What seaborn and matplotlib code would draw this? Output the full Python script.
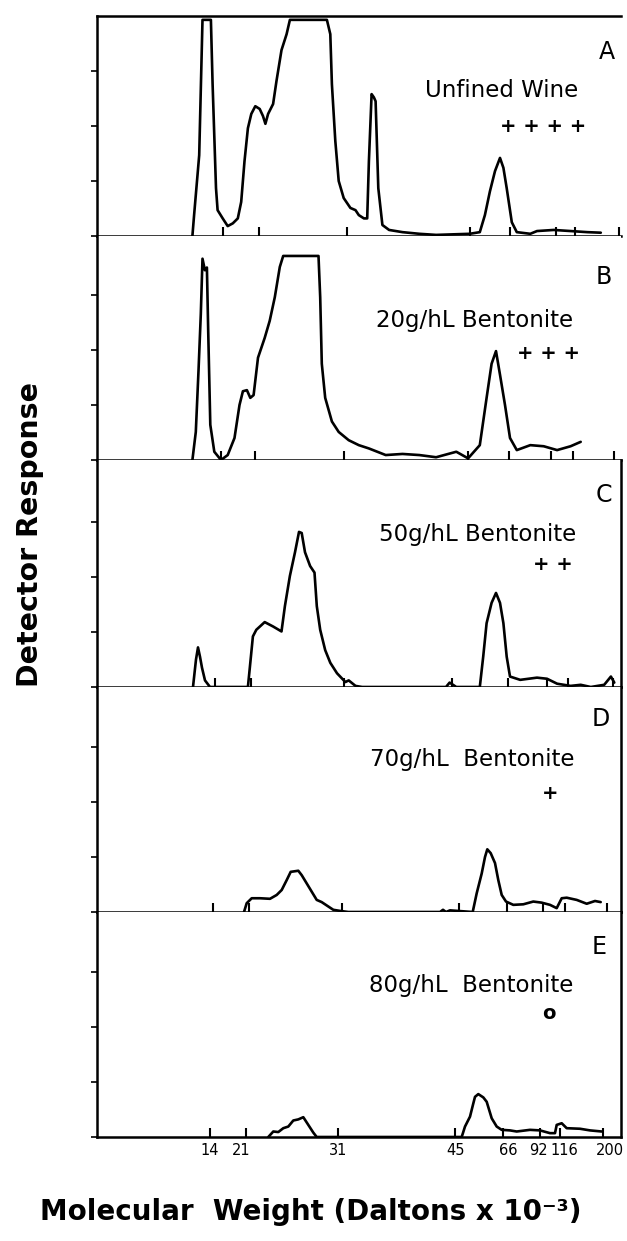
import matplotlib
matplotlib.use("Agg")
import matplotlib.pyplot as plt
import seaborn as sns
import pandas as pd

# scan distance (arbitrary units) and detector response for each gel lane
A_x = [92.4, 94.1, 99.2, 102.5, 110.9, 112.6, 116.0, 117.6, 122.7, 127.7, 132.8, 137.8, 141.2,
       144.5, 147.9, 151.3, 155.3, 159.7, 163.0, 165.4, 168.1, 173.1, 176.5, 181.5, 186.6, 189.9,
       226.9, 230.3, 231.9, 235.3, 238.7, 243.7, 250.4, 255.5, 258.8, 263.9, 267.2, 268.9, 271.6,
       273.9, 275.6, 278.3, 282.4, 289.1, 302.5, 319.3, 336.1, 352.9, 369.7, 379.8, 384.9, 389.9,
       395.0, 400.0, 403.4, 406.7, 411.8, 416.8, 430.3, 437.0, 453.8, 470.6, 487.4, 500.8]
A_y = [0.0, 0.38, 1.47, 3.93, 3.93, 2.76, 0.87, 0.47, 0.32, 0.18, 0.23, 0.32, 0.62,
       1.36, 1.96, 2.22, 2.36, 2.31, 2.18, 2.04, 2.22, 2.40, 2.82, 3.38, 3.67, 3.93,
       3.93, 3.67, 2.76, 1.73, 1.00, 0.69, 0.51, 0.47, 0.38, 0.32, 0.32, 1.36, 2.58,
       2.52, 2.45, 0.87, 0.20, 0.11, 0.07, 0.04, 0.02, 0.03, 0.04, 0.07, 0.38, 0.81,
       1.18, 1.42, 1.24, 0.87, 0.25, 0.07, 0.04, 0.09, 0.11, 0.09, 0.07, 0.06]

B_x = [92.4, 95.8, 98.5, 100.8, 102.5, 104.9, 106.9, 108.2, 110.3, 114.3, 121.0, 127.7, 134.5,
       139.5, 142.9, 146.9, 150.3, 153.6, 158.0, 164.7, 169.7, 174.8, 179.8, 183.2, 218.5, 220.2,
       221.8, 225.2, 231.9, 238.7, 248.7, 258.8, 268.9, 285.7, 302.5, 319.3, 336.1, 356.3, 368.1,
       379.8, 386.6, 391.6, 396.0, 400.0, 405.0, 410.0, 416.8, 430.3, 443.7, 457.1, 470.6, 480.7]
B_y = [0.0, 0.51, 1.62, 2.65, 3.66, 3.45, 3.50, 2.35, 0.64, 0.15, 0.0, 0.09, 0.40,
       1.00, 1.25, 1.27, 1.13, 1.18, 1.86, 2.22, 2.53, 2.96, 3.51, 3.71, 3.71, 2.96,
       1.75, 1.13, 0.70, 0.51, 0.36, 0.27, 0.21, 0.09, 0.11, 0.09, 0.05, 0.15, 0.03,
       0.27, 1.13, 1.75, 1.98, 1.55, 1.00, 0.40, 0.18, 0.27, 0.25, 0.18, 0.25, 0.33]

C_x = [93.0, 96.0, 98.0, 100.0, 102.0, 105.0, 110.0, 147.9, 149.6, 152.9, 156.3, 164.7, 173.1,
       181.5, 184.9, 189.9, 195.0, 199.0, 201.7, 205.0, 210.1, 214.5, 216.8, 220.2, 225.2, 230.3,
       237.0, 245.4, 248.7, 255.5, 262.2, 346.0, 349.6, 353.0, 356.3, 379.8, 383.2, 386.6, 391.6,
       396.0, 400.0, 403.4, 406.7, 410.0, 420.2, 437.0, 447.0, 457.1, 470.6, 480.7, 490.8, 504.2,
       510.9, 514.3]
C_y = [0.0, 0.50, 0.72, 0.55, 0.35, 0.12, 0.0, 0.0, 0.31, 0.92, 1.04, 1.18, 1.10,
       1.01, 1.47, 2.02, 2.45, 2.82, 2.80, 2.45, 2.20, 2.08, 1.47, 1.04, 0.67, 0.44,
       0.25, 0.09, 0.12, 0.02, 0.0, 0.0, 0.08, 0.04, 0.0, 0.0, 0.55, 1.16, 1.53,
       1.71, 1.53, 1.16, 0.55, 0.19, 0.13, 0.17, 0.15, 0.06, 0.02, 0.04, 0.0, 0.04,
       0.19, 0.08]

D_x = [144.0, 146.7, 151.7, 160.0, 170.0, 176.7, 181.7, 186.7, 190.7, 198.3, 201.7, 206.7, 211.7,
       216.7, 221.7, 228.3, 233.3, 240.0, 248.3, 340.0, 343.0, 346.0, 350.0, 372.7, 376.7, 381.7,
       385.0, 387.3, 390.7, 395.0, 398.3, 401.7, 406.0, 413.3, 423.3, 433.3, 441.7, 450.0, 456.7,
       461.7, 466.7, 476.7, 486.7, 495.0, 500.7]
D_y = [0.0, 0.16, 0.25, 0.25, 0.24, 0.31, 0.40, 0.58, 0.73, 0.75, 0.67, 0.52, 0.37,
       0.22, 0.18, 0.10, 0.04, 0.02, 0.0, 0.0, 0.04, 0.0, 0.03, 0.0, 0.34, 0.70,
       1.00, 1.14, 1.07, 0.89, 0.58, 0.31, 0.19, 0.13, 0.14, 0.19, 0.17, 0.13, 0.07,
       0.25, 0.26, 0.22, 0.15, 0.20, 0.18]

E_x = [168.3, 173.3, 178.3, 183.3, 188.3, 193.3, 198.3, 203.3, 208.3, 213.3, 216.7, 361.7, 365.0,
       370.0, 373.3, 375.0, 378.3, 383.3, 386.7, 391.7, 396.7, 401.7, 410.0, 416.7, 430.0, 440.0,
       450.0, 455.0, 456.7, 461.7, 466.7, 480.0, 490.0, 501.7]
E_y = [0.0, 0.10, 0.09, 0.16, 0.19, 0.30, 0.32, 0.36, 0.22, 0.08, 0.0, 0.0, 0.19,
       0.37, 0.61, 0.73, 0.78, 0.72, 0.64, 0.34, 0.19, 0.13, 0.12, 0.10, 0.13, 0.12,
       0.07, 0.07, 0.22, 0.25, 0.16, 0.15, 0.12, 0.10]

# molecular weight marker positions in each lane
A_marks = [122.7, 159.0, 247.0, 369.7, 410.0, 455.5, 475.0, 519.0]
B_marks = [121.0, 154.6, 243.7, 368.0, 409.0, 451.0, 472.5, 514.0]
C_marks = [115.0, 151.0, 244.0, 352.0, 408.0, 447.0, 468.0, 513.0]
D_marks = [112.7, 149.3, 241.7, 359.3, 406.7, 443.3, 465.0, 507.3]
E_marks = [110.0, 146.0, 238.3, 355.0, 403.3, 440.0, 460.0, 502.7]
mw_labels = ["14", "21", "31", "45", "66", "92", "116", "200"]
mw_label_pos = [110, 141, 238, 356, 408, 438, 464, 510]

letters = ["A", "B", "C", "D", "E"]
treatments = ["Unfined Wine", "20g/hL Bentonite", "50g/hL Bentonite",
              "70g/hL  Bentonite", "80g/hL  Bentonite"]
haze = ["+ + + +", "+ + +", "+ +", "+", "o"]

traces = [(A_x, A_y), (B_x, B_y), (C_x, C_y), (D_x, D_y), (E_x, E_y)]
marks = [A_marks, B_marks, C_marks, D_marks, E_marks]

sns.set_style("white")
plt.rcParams["font.family"] = ["DejaVu Sans"]
plt.rcParams["text.color"] = "black"
plt.rcParams["xtick.color"] = "black"
plt.rcParams["ytick.color"] = "black"

panel_h = [220, 224, 227, 225, 225]
fig, axes = plt.subplots(5, 1, figsize=(6.27, 12.41), dpi=100,
                         gridspec_kw=dict(height_ratios=panel_h, hspace=0))
fig.subplots_adjust(left=97 / 627, right=621 / 627, top=1 - 16 / 1241, bottom=1 - 1137 / 1241)

# text placement (x, y in data units) per panel
letter_pos = [(507, 3.35), (504, 3.33), (504, 3.49), (501, 3.51), (499, 3.45)]
treat_pos = [(401.5, 2.64), (374.5, 2.53), (378, 2.78), (372, 2.78), (371.5, 2.75)]
haze_pos = [(443, 2.0), (448.5, 1.93), (452.5, 2.22), (450, 2.16), (449, 2.24)]

for i, ax in enumerate(axes):
    xs, ys = traces[i]
    df = pd.DataFrame({"dist": xs, "resp": ys})
    sns.lineplot(data=df, x="dist", y="resp", ax=ax, color="black", lw=1.9, estimator=None)
    ax.vlines(marks[i], 0, 0.17, color="black", lw=1.5)
    ax.set_xlim(-3, 521)
    ax.set_ylim(0, panel_h[i] / 55)
    ax.set_yticks([0, 1, 2, 3])
    ax.set_yticklabels([])
    ax.tick_params(axis="y", direction="out", length=4, width=1.2, left=True)
    ax.set_xlabel("")
    ax.set_ylabel("")
    for s in ax.spines.values():
        s.set_color("black")
        s.set_linewidth(1.8)
    ax.spines["top"].set_visible(i == 0)
    ax.spines["right"].set_visible(i >= 2)

    ax.text(*letter_pos[i], letters[i], ha="center", va="center", fontsize=17)
    ax.text(*treat_pos[i], treatments[i], ha="center", va="center", fontsize=16.5)
    ax.text(*haze_pos[i], haze[i], ha="center", va="center", fontsize=14, fontweight="bold")

    if i < 4:
        ax.set_xticks([])
    else:
        ax.set_xticks(mw_label_pos)
        ax.set_xticklabels(mw_labels, fontsize=10.5)
        ax.tick_params(axis="x", length=0, pad=4)

fig.text(30 / 627, 1 - 535 / 1241, "Detector Response", rotation=90, ha="center", va="center",
         fontsize=20.5, fontweight="bold")
fig.text(40 / 627, 1 - 1212 / 1241, "Molecular  Weight (Daltons x 10⁻³)", ha="left", va="center",
         fontsize=20, fontweight="bold")

fig.savefig("out.png", dpi=100)
